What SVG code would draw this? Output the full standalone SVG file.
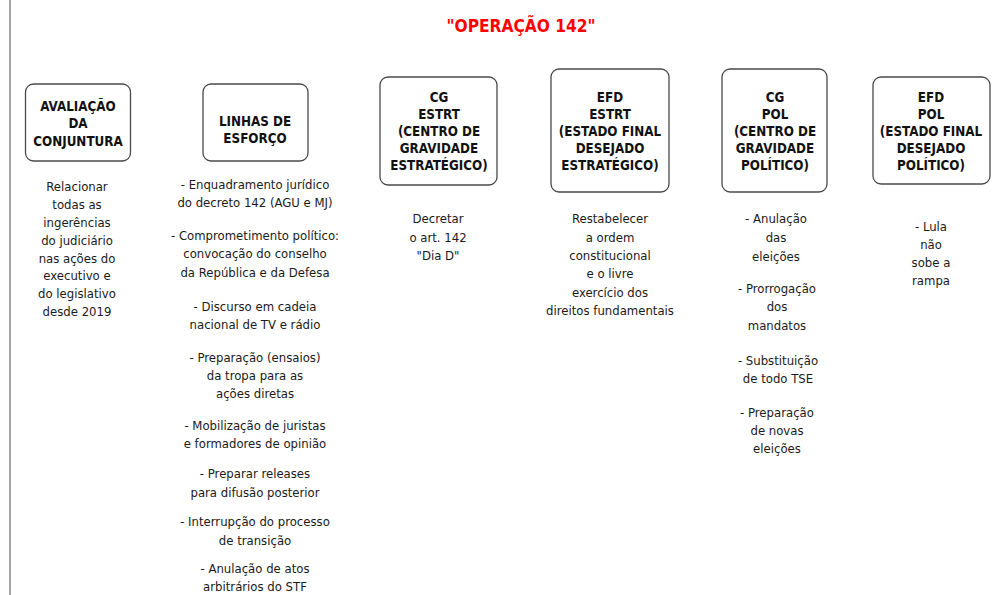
<svg xmlns="http://www.w3.org/2000/svg" width="1003" height="595" viewBox="0 0 1003 595">
<style>
.box{fill:#fff;stroke:#4a4a4a;stroke-width:1.3}
.h{font-family:"DejaVu Sans Condensed","DejaVu Sans",sans-serif;font-weight:bold;font-size:13.3px;fill:#111;text-anchor:middle}
.t{font-family:"DejaVu Sans Condensed","DejaVu Sans",sans-serif;font-size:13px;fill:#1a1a1a;text-anchor:middle}
.title{font-family:"DejaVu Sans Condensed","DejaVu Sans",sans-serif;font-weight:bold;font-size:18px;fill:#ff0000;text-anchor:middle}
</style>
<rect width="1003" height="595" fill="#fff"/>
<line x1="10" y1="0" x2="10" y2="595" stroke="#888" stroke-width="1.5"/>
<text class="title" x="521" y="32" textLength="149" lengthAdjust="spacingAndGlyphs">"OPERAÇÃO 142"</text>
<g id="connectors"></g>
<g id="avaliacao">
<rect class="box" x="25.5" y="84" width="105" height="77" rx="8"/>
<text class="h"><tspan x="78" y="111">AVALIAÇÃO</tspan><tspan x="78" y="128">DA</tspan><tspan x="78" y="146">CONJUNTURA</tspan></text>
<text class="t"><tspan x="77" y="191">Relacionar</tspan><tspan x="77" y="209">todas as</tspan><tspan x="77" y="227">ingerências</tspan><tspan x="77" y="245">do judiciário</tspan><tspan x="77" y="263">nas ações do</tspan><tspan x="77" y="280">executivo e</tspan><tspan x="77" y="298">do legislativo</tspan><tspan x="77" y="316">desde 2019</tspan></text>
</g>
<g id="linhas">
<rect class="box" x="203" y="84" width="105" height="77" rx="8"/>
<text class="h"><tspan x="255" y="126">LINHAS DE</tspan><tspan x="255" y="143">ESFORÇO</tspan></text>
<text class="t"><tspan x="255" y="189">- Enquadramento jurídico</tspan><tspan x="255" y="207">do decreto 142 (AGU e MJ)</tspan><tspan x="255" y="240">- Comprometimento político:</tspan><tspan x="255" y="258">convocação do conselho</tspan><tspan x="255" y="277">da República e da Defesa</tspan><tspan x="255" y="311">- Discurso em cadeia</tspan><tspan x="255" y="329">nacional de TV e rádio</tspan><tspan x="255" y="362">- Preparação (ensaios)</tspan><tspan x="255" y="380">da tropa para as</tspan><tspan x="255" y="398">ações diretas</tspan><tspan x="255" y="430">- Mobilização de juristas</tspan><tspan x="255" y="448">e formadores de opinião</tspan><tspan x="255" y="478">- Preparar releases</tspan><tspan x="255" y="497">para difusão posterior</tspan><tspan x="255" y="526">- Interrupção do processo</tspan><tspan x="255" y="545">de transição</tspan><tspan x="255" y="573">- Anulação de atos</tspan><tspan x="255" y="591">arbitrários do STF</tspan></text>
</g>
<g id="cg-estrt">
<rect class="box" x="380" y="77" width="117" height="108" rx="8"/>
<text class="h"><tspan x="439" y="102">CG</tspan><tspan x="439" y="119">ESTRT</tspan><tspan x="439" y="136">(CENTRO DE</tspan><tspan x="439" y="153">GRAVIDADE</tspan><tspan x="439" y="170">ESTRATÉGICO)</tspan></text>
<text class="t"><tspan x="438" y="223">Decretar</tspan><tspan x="438" y="242">o art. 142</tspan><tspan x="438" y="260">"Dia D"</tspan></text>
</g>
<g id="efd-estrt">
<rect class="box" x="551" y="69" width="118" height="123" rx="8"/>
<text class="h"><tspan x="610" y="102">EFD</tspan><tspan x="610" y="119">ESTRT</tspan><tspan x="610" y="136">(ESTADO FINAL</tspan><tspan x="610" y="153">DESEJADO</tspan><tspan x="610" y="170">ESTRATÉGICO)</tspan></text>
<text class="t"><tspan x="610" y="223">Restabelecer</tspan><tspan x="610" y="242">a ordem</tspan><tspan x="610" y="260">constitucional</tspan><tspan x="610" y="278">e o livre</tspan><tspan x="610" y="297">exercício dos</tspan><tspan x="610" y="315">direitos fundamentais</tspan></text>
</g>
<g id="cg-pol">
<rect class="box" x="722" y="69" width="105" height="123" rx="8"/>
<text class="h"><tspan x="775" y="102">CG</tspan><tspan x="775" y="119">POL</tspan><tspan x="775" y="136">(CENTRO DE</tspan><tspan x="775" y="153">GRAVIDADE</tspan><tspan x="775" y="170">POLÍTICO)</tspan></text>
<text class="t"><tspan x="776" y="223">- Anulação</tspan><tspan x="776" y="242">das</tspan><tspan x="776" y="261">eleições</tspan><tspan x="777" y="293">- Prorrogação</tspan><tspan x="777" y="311">dos</tspan><tspan x="777" y="330">mandatos</tspan><tspan x="778" y="365">- Substituição</tspan><tspan x="778" y="383">de todo TSE</tspan><tspan x="777" y="417">- Preparação</tspan><tspan x="777" y="435">de novas</tspan><tspan x="777" y="453">eleições</tspan></text>
</g>
<g id="efd-pol">
<rect class="box" x="873" y="77" width="117" height="107" rx="8"/>
<text class="h"><tspan x="931" y="102">EFD</tspan><tspan x="931" y="119">POL</tspan><tspan x="931" y="136">(ESTADO FINAL</tspan><tspan x="931" y="153">DESEJADO</tspan><tspan x="931" y="170">POLÍTICO)</tspan></text>
<text class="t"><tspan x="931" y="231">- Lula</tspan><tspan x="931" y="249">não</tspan><tspan x="931" y="267">sobe a</tspan><tspan x="931" y="285">rampa</tspan></text>
</g>
</svg>
